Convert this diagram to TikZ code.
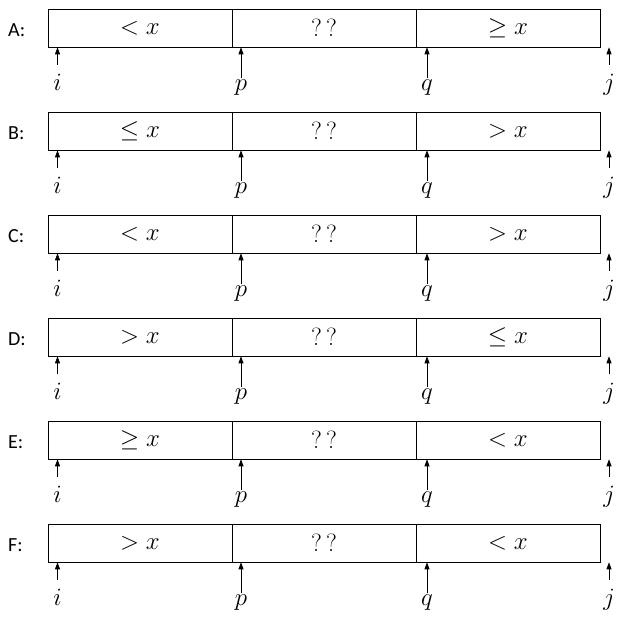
\documentclass[tikz,border=0pt]{standalone}
\usepackage{fontspec}
\setsansfont{Carlito}
\usetikzlibrary{arrows.meta, positioning}

\begin{document}
\begin{tikzpicture}[x=1pt, y=-1pt,
        cell/.style = {draw, line width=0.9pt, minimum width=184pt, minimum height=38pt, inner sep=0pt, outer sep=0pt, font=\fontsize{23}{27}\selectfont},
        tag/.style = {font=\sffamily\fontsize{20}{24}\selectfont, inner sep=0pt},
        idx/.style = {font=\fontsize{25}{30}\selectfont, inner sep=0pt},
        ptr/.style = {-{Triangle[length=7pt,width=5pt]}, line width=0.8pt}]
        \useasboundingbox (0,0) rectangle (629,622);
        \foreach \r/\lft/\rgt [count=\k from 0] in {A/{<x}/{\geq x}, B/{\leq x}/{>x}, C/{<x}/{>x}, D/{>x}/{\leq x}, E/{\geq x}/{<x}, F/{>x}/{<x}} {
        \pgfmathsetmacro\ty{9.3+103*\k}
        \pgfmathsetmacro\by{\ty+38}
        \node[tag, anchor=base west] (\r0) at (8,\ty+27.4) {\r:};
        \node[cell, anchor=north west] (\r1) at (48,\ty) {$\lft$};
        \node[cell, right=0pt of \r1] (\r2) {$?\,?$};
        \node[cell, right=0pt of \r2] (\r3) {$\rgt$};
        % pointers under the array
        \coordinate (\r ti) at (57.5,\by);
        \coordinate (\r tp) at (241,\by);
        \coordinate (\r tq) at (427,\by);
        \coordinate (\r tj) at (609,\by);
        \node[idx, anchor=base] (\r i) at (57.5,\ty+81) {$i$};
        \node[idx, anchor=base] (\r p) at (241,\ty+81) {$p$};
        \node[idx, anchor=base] (\r q) at (427,\ty+81) {$q$};
        \node[idx, anchor=base] (\r j) at (609,\ty+81) {$j$};
        \draw[ptr, shorten <=9pt] (\r i.north) -- (\r ti);
        \draw[ptr, shorten <=1pt] (\r p.north) -- (\r tp);
        \draw[ptr, shorten <=1pt] (\r q.north) -- (\r tq);
        \draw[ptr, shorten <=9pt] (\r j.north) -- (\r tj);
        }
\end{tikzpicture}
\end{document}
